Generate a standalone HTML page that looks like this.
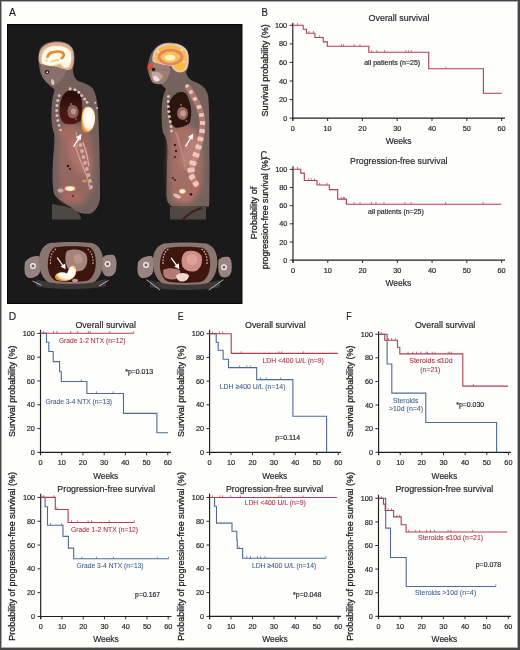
<!DOCTYPE html><html><head><meta charset="utf-8"><style>html,body{margin:0;padding:0;background:#fff;width:520px;height:650px;overflow:hidden;}svg{display:block;will-change:transform;}text{font-family:"Liberation Sans", sans-serif;}</style></head><body>
<svg width="520" height="650" viewBox="0 0 520 650">
<rect x="0" y="0" width="520" height="650" fill="#fefefd"/>
<defs>
<filter id="b05" x="-20%" y="-20%" width="140%" height="140%"><feGaussianBlur stdDeviation="0.5"/></filter>
<filter id="b1" x="-20%" y="-20%" width="140%" height="140%"><feGaussianBlur stdDeviation="0.5"/></filter>
<filter id="b2" x="-20%" y="-20%" width="140%" height="140%"><feGaussianBlur stdDeviation="1.5"/></filter>
<filter id="b3" x="-30%" y="-30%" width="160%" height="160%"><feGaussianBlur stdDeviation="2.5"/></filter>
<radialGradient id="brainL" cx="50%" cy="45%" r="60%">
<stop offset="0" stop-color="#fffbee"/><stop offset="0.75" stop-color="#fdf0d2"/><stop offset="1" stop-color="#f4c79a"/>
</radialGradient>
<radialGradient id="brainR" cx="48%" cy="52%" r="58%">
<stop offset="0" stop-color="#fff6d6"/><stop offset="0.18" stop-color="#fbe3a0"/><stop offset="0.38" stop-color="#e9903e"/><stop offset="0.55" stop-color="#db7436"/><stop offset="0.75" stop-color="#f4b44a"/><stop offset="0.92" stop-color="#f7d37a"/><stop offset="1" stop-color="#eec0a0"/>
</radialGradient>
<radialGradient id="lesion" cx="55%" cy="45%" r="55%">
<stop offset="0" stop-color="#ffffff"/><stop offset="0.7" stop-color="#fff6e6"/><stop offset="0.9" stop-color="#f8c26e"/><stop offset="1" stop-color="#e58a3a"/>
</radialGradient>
<radialGradient id="hot" cx="50%" cy="50%" r="50%">
<stop offset="0" stop-color="#ffffff"/><stop offset="0.6" stop-color="#fff2d8"/><stop offset="1" stop-color="#f29a48"/>
</radialGradient>
</defs>
<rect x="7.5" y="24.5" width="234.5" height="279" fill="#1a1a1a" stroke="#060606" stroke-width="1"/>

<!-- ================= LEFT SAGITTAL ================= -->
<g filter="url(#b1)">
<path d="M54 41.5 C62 40.5 70 43 73 49 C75 54 75 62 73 69 C73 74 74 78 78 81 C84 83 90 85 93 89 C96 94 97 100 98 110 C99 130 100 160 100 195 C100 203 97 210 91 213.5 C85 214.5 76 213 70 206.5 C64 203 57 199 54 194 C52 185 52.5 170 53 160 C54 148 55 138 54 133 C52 128 51 120 51.5 110 C52 100 53 94 55 90 C53 88 50 86 48 84 C44 80 40 75 39.5 68 C38 60 38 54 40 49 C43 44 48 42 54 41.5 Z" fill="#73615c"/>
<path d="M52 204 C60 205 67 207 72 208.5 C78 212 81 215 81 219.5 L52 219.5 Z" fill="#4e4644"/>
</g>
<g filter="url(#b3)">
<path d="M60 128 C68 125 82 127 90 132 C94 145 95 165 93 185 C91 195 86 202 80 205 C72 206 64 203 60 198 C58 185 57.5 150 60 128 Z" fill="#a06a62" opacity="0.75"/>
<ellipse cx="79" cy="156" rx="9" ry="22" fill="#b07268" transform="rotate(-22 79 156)"/>
<ellipse cx="70" cy="132" rx="12" ry="7" fill="#a46a60"/>
<ellipse cx="72" cy="198" rx="11" ry="6" fill="#a66a62"/>
<ellipse cx="88" cy="180" rx="4" ry="10" fill="#8a6a64"/>
<path d="M57 82 C62 80 70 82 73 86 C70 92 62 94 57 92 Z" fill="#7e5e58"/>
</g>
<g filter="url(#b1)">
<!-- lung -->
<linearGradient id="lungL" x1="0" y1="0" x2="0" y2="1"><stop offset="0" stop-color="#241010"/><stop offset="0.45" stop-color="#3a1210"/><stop offset="1" stop-color="#561a16"/></linearGradient>
<path d="M68 91 C74 89.5 79 91 81 96 C82.5 103 82.5 112 81.5 120 C78 124 72 125 66 124 C61 122 59.5 117 59.5 110 C59.5 104 61 98 64 94 C65 92.5 66.5 91.5 68 91 Z" fill="url(#lungL)"/>
<path d="M69 106 C72 104 76 105 77.5 108 C79.5 111 78.5 115 76.5 117 C74 119 70 118.5 68.5 116 C67 113 67 109 69 106 Z" fill="#8e625c"/>
<ellipse cx="73.5" cy="111.5" rx="2.6" ry="3" fill="#b8968e"/>
<circle cx="71" cy="104" r="1" fill="#9a6a64"/><circle cx="76" cy="119" r="1" fill="#8a5a54"/>
<!-- sternum -->
<g fill="#d8bcb4"><circle cx="59.1" cy="95.6" r="1.5"/><circle cx="57.8" cy="100.5" r="1.5"/><circle cx="57" cy="105.5" r="1.5"/><circle cx="56.7" cy="110.5" r="1.5"/><circle cx="57" cy="115.5" r="1.5"/><circle cx="57.8" cy="120.5" r="1.5"/><circle cx="59" cy="125.5" r="1.4"/><circle cx="60.5" cy="130" r="1.3"/></g>
<!-- spine -->
<g fill="#dcc0b8"><circle cx="70.2" cy="88.8" r="1.5"/><circle cx="75" cy="89.8" r="1.5"/><circle cx="78.8" cy="92.2" r="1.5"/><circle cx="81.7" cy="95.6" r="1.5"/><circle cx="84.6" cy="99" r="1.5"/><circle cx="87" cy="102.3" r="1.5"/><circle cx="95.2" cy="102.8" r="1"/><circle cx="97" cy="108" r="1"/></g>
<g fill="#d4aca4"><circle cx="79" cy="139" r="1.9"/><circle cx="80.5" cy="145" r="1.9"/><circle cx="82" cy="151" r="1.9"/><circle cx="83.5" cy="157" r="1.9"/><circle cx="85" cy="163" r="1.9"/><circle cx="86.8" cy="169" r="1.9"/><circle cx="88.5" cy="175" r="1.9"/><circle cx="90" cy="181" r="1.9"/><circle cx="91" cy="187" r="1.9"/></g>
<path d="M75 145 C78 155 81 163 84.5 170 C87 176 89 182 90 190" stroke="#c8a098" stroke-width="1.4" fill="none"/>
<path d="M83 142 C86 150 88 158 89 166" stroke="#d0aaa2" stroke-width="1.3" fill="none"/>
<path d="M76 132 C78 140 78 146 76 150" stroke="#c0948c" stroke-width="1.3" fill="none"/>
<!-- skull + brain -->
<path d="M38.8 60 C37.8 51 43 43.5 53 42.4 C63 41.2 71.5 44 73.2 51 C74.6 57 74.2 64 71.2 69.3 C67 70.8 62 70.3 58 68.8 C52 67.8 45 67.3 41.2 64.8 C39.8 63.3 39.1 62 38.8 60 Z" fill="#d8aca2"/>
<path d="M40.7 60 C40.3 52 45 46 53 45.2 C61 44.5 69 46 71.5 51.5 C73 56.5 72.5 63 69.5 67.8 C67 68.8 65.5 69 63.8 68.8 C62 67 60.5 65 59 64.4 C57.5 65.5 56.5 66 55 65.9 C53 66.5 51 67 49.3 66.8 C46 66 43 65 41.2 63.5 C40.8 62.5 40.6 61.3 40.7 60 Z" fill="#f6c070"/>
<path d="M41.7 59.8 C41.4 52.5 45.5 47 53 46.3 C61 45.6 68 47 70.5 52 C71.8 56.5 71.4 62.5 68.8 66.8 C67 67.6 65.6 67.8 64.2 67.6 C62.5 66 60.8 64 59 63.3 C57.3 64.5 56.3 65 55 64.9 C53 65.4 51 65.8 49.5 65.7 C46.5 65 43.8 64.2 42.2 62.8 C41.8 61.8 41.6 60.8 41.7 59.8 Z" fill="#fffaf0"/>
<path d="M47.4 56.8 C48.5 54 50 52.8 52.2 52.4 C55 51.6 57 51.4 59 51.5 C61.5 51.8 63.4 52.8 63.8 54.6 C63.8 56.3 62.8 57.6 61.6 58.2" stroke="#e68a2c" stroke-width="2.6" fill="none" stroke-linecap="round"/>
<path d="M51.5 61.6 C54 60.6 56.5 60.2 58.5 60" stroke="#f4c456" stroke-width="1.4" fill="none" stroke-linecap="round"/>
<circle cx="46.5" cy="60.5" r="1" fill="#f4c060"/>
<!-- face -->
<path d="M41 64 C48 66 58 67.5 66 69.5 C66 75 62 80 57 84 C53 86 49 84.5 46 81.5 C42.5 78 40.5 72 41 64 Z" fill="#8a706a"/>
<circle cx="47" cy="72" r="2.1" fill="#0e0e0e"/><circle cx="47.2" cy="72.2" r="1" fill="#e8e8e8"/>
<path d="M51.5 79 C54 79.5 55 83 53.5 85.5 C51.5 84.5 50.5 81.5 51.5 79 Z" fill="#dcc8c0"/>
<path d="M46 68 C50 66.5 56 67 60 69" stroke="#8a6a62" stroke-width="1.5" fill="none"/>
<!-- lesion -->
<path d="M85 107.5 C90 105 94.5 109 95 116 C95.5 123 94 129 88.5 132 C84 133.5 81 130 81.5 124 C81.5 118 81 111 85 107.5 Z" fill="url(#lesion)"/>
<!-- pelvis -->
<ellipse cx="60.5" cy="190.5" rx="3" ry="2" fill="#c8aca6"/>
<ellipse cx="84.5" cy="181" rx="2.4" ry="1.4" fill="#e28a58"/>
<circle cx="73" cy="196" r="0.9" fill="#5a1a14"/>
<circle cx="68" cy="166" r="1.2" fill="#2a1412"/><circle cx="70" cy="169" r="1" fill="#2a1412"/>
<path d="M64.5 188.5 C64.5 186.5 66 186 70 186 C74 186 75.5 186.5 75.5 188.5 C75.5 190.5 74 191.2 70 191.2 C66 191.2 64.5 190.5 64.5 188.5 Z" fill="url(#hot)"/>
</g>

<!-- ================= RIGHT SAGITTAL ================= -->
<g filter="url(#b1)">
<path d="M168 42.5 C178 42 186 46 188 53 C190 60 189 67 186 72 C187 77 190 80 195 82 C201 84 206 88 208 95 C209.5 105 209.5 130 209.5 160 C209.5 185 209.5 200 209 206.5 L172 206.5 C168 204 166.5 200 166.5 195 C166.5 180 167 165 167.5 150 C167.5 142 166 137 163 133 C161.5 125 161.5 112 162 104 C162.5 98 164 93 166 89 C164 87 162 85 160 83 C156 83 151 80 149 75 C147 70 147 65 149 60 C151 50 158 43 168 42.5 Z" fill="#75625d"/>
<path d="M170 207 L206 207 L206 219.5 L170 219.5 Z" fill="#4e4644"/>
<path d="M183 219.5 C188 214 194 210 202 208" stroke="#4a1e1a" stroke-width="2.2" fill="none"/>
</g>
<g filter="url(#b3)">
<radialGradient id="abdR" cx="50%" cy="22%" r="75%"><stop offset="0" stop-color="#b27468"/><stop offset="0.5" stop-color="#966a62"/><stop offset="1" stop-color="#78625c"/></radialGradient>
<path d="M170 126 C178 123 190 125 197 130 C203 145 205 165 204 185 C203 196 199 202 193 205 C184 206 175 205 170 201 C168 185 167 150 170 126 Z" fill="url(#abdR)"/>
<path d="M172 130 C180 127 192 129 198 134 C202 148 203 168 201 186 C199 196 194 202 188 204 C180 205 174 203 171 199 C169.5 185 169 150 172 130 Z" fill="#a87066" opacity="0.75"/>
<ellipse cx="184" cy="196" rx="10" ry="6" fill="#b07468"/>
<ellipse cx="190" cy="152" rx="7" ry="16" fill="#b88078" transform="rotate(20 190 152)"/>
</g>
<g filter="url(#b1)">
<path d="M177.7 92.5 C181 91.5 184 92 186 93.5 C189 99 191 105 191.2 111 C191.3 116 190.5 121 189.2 123.6 C185 126.5 180 128 175.7 127.8 C173 126 171.5 124 170.5 121.5 C169 116 167.8 111 167.9 107 C168.5 102 172 96 177.7 92.5 Z" fill="#2a1210"/>
<path d="M179 108 C182 106 186 107 187.5 110.5 C188.5 114 187.5 118 184.5 119.5 C181.5 120.5 178.5 119 177.5 116 C176.8 113 177 110 179 108 Z" fill="#9a6a62"/>
<ellipse cx="183" cy="113.5" rx="2.8" ry="3" fill="#c49a92"/>
<circle cx="181" cy="105" r="1" fill="#a06a64"/><circle cx="186.5" cy="121" r="1" fill="#96605a"/>
<g fill="#dcc0b8"><circle cx="168.4" cy="96.6" r="1.5"/><circle cx="168.2" cy="101.5" r="1.5"/><circle cx="168.4" cy="106.5" r="1.5"/><circle cx="168.8" cy="111.5" r="1.5"/><circle cx="169.4" cy="116.5" r="1.5"/><circle cx="170.2" cy="121.5" r="1.5"/><circle cx="171" cy="126.5" r="1.5"/><circle cx="171.5" cy="131" r="1.4"/></g>
<path d="M187 86 L191 92 L195 99 L199 107 L201.5 115 L202.5 123 L202 131 L200.5 139 L198.5 147 L196 155 L193 163 L191 170 L192 177 L196 184" stroke="#d88c7e" stroke-width="6" fill="none" stroke-linejoin="round" opacity="0.55"/>
<g fill="#ecc6be">
<rect x="185.2" y="84.4" width="3.6" height="3.2" rx="1.3" transform="rotate(-33.7 187 86)"/>
<rect x="189.0" y="90.3" width="4.0" height="3.4" rx="1.3" transform="rotate(-29.7 191 92)"/>
<rect x="192.8" y="97.2" width="4.3" height="3.5" rx="1.3" transform="rotate(-26.6 195 99)"/>
<rect x="196.7" y="105.2" width="4.7" height="3.7" rx="1.3" transform="rotate(-17.4 199 107)"/>
<rect x="199.0" y="113.1" width="5.0" height="3.8" rx="1.3" transform="rotate(-7.1 201.5 115)"/>
<rect x="199.8" y="121.0" width="5.3" height="4.0" rx="1.3" transform="rotate(3.6 202.5 123)"/>
<rect x="199.2" y="128.9" width="5.7" height="4.1" rx="1.3" transform="rotate(10.6 202 131)"/>
<rect x="197.5" y="136.9" width="6.0" height="4.2" rx="1.3" transform="rotate(14.0 200.5 139)"/>
<rect x="195.3" y="144.8" width="6.4" height="4.4" rx="1.3" transform="rotate(17.4 198.5 147)"/>
<rect x="192.6" y="152.7" width="6.8" height="4.5" rx="1.3" transform="rotate(20.6 196 155)"/>
<rect x="189.4" y="160.7" width="7.1" height="4.7" rx="1.3" transform="rotate(15.9 193 163)"/>
<rect x="187.3" y="167.6" width="7.4" height="4.8" rx="1.3" transform="rotate(-8.1 191 170)"/>
<rect x="189.0" y="174.5" width="6.0" height="5.0" rx="1.3" transform="rotate(-29.7 192 177)"/>
<rect x="193.0" y="181.4" width="6.0" height="5.2" rx="1.3" transform="rotate(-29.7 196 184)"/>
</g>
<path d="M176 132 C180 145 184 158 186 170" stroke="#c08a80" stroke-width="2" fill="none" opacity="0.8"/>
<circle cx="175" cy="145" r="1.2" fill="#3a1a16"/><circle cx="176" cy="151" r="1.2" fill="#3a1a16"/><circle cx="175" cy="157" r="1.1" fill="#3a1a16"/>
<!-- skull + brain -->
<path d="M152.5 61 C151.5 51 158 44 167 43.3 C177 42.6 185.5 45.5 187.8 52 C189.3 58 188.8 65 186.5 69.5 C184 72 181 72.8 178.7 72.3 C175 71.5 172.5 69 171.5 66 C166 65.5 160 64.5 155.6 63 C154 62.5 153 62 152.5 61 Z" fill="#eec4b6"/>
<path d="M154.5 60.3 C154 52 159.5 46 167.5 45.5 C176 45 183.5 47.5 185.8 53 C187 58 186.6 64 184.8 68 C182.8 70.3 180.6 71 178.7 70.6 C175.8 69.8 173.8 67.8 172.9 64.8 C167 64.3 161 63.5 156.5 62 C155.4 61.6 154.8 61 154.5 60.3 Z" fill="#f6bd44"/>
<ellipse cx="170.5" cy="57" rx="11.5" ry="6.8" fill="none" stroke="#e48466" stroke-width="2.8"/>
<ellipse cx="170" cy="57.6" rx="5.5" ry="3" fill="#fff3c4"/>
<ellipse cx="170" cy="57.6" rx="7.6" ry="4.4" fill="none" stroke="#f6c060" stroke-width="1.6"/>
<circle cx="158" cy="52" r="1.3" fill="#fde2a0"/><circle cx="182" cy="50" r="1.3" fill="#fde2a0"/><circle cx="184" cy="62" r="1.2" fill="#fde2a0"/>
<!-- face -->
<path d="M151 63 C156 63 164 64.5 170 67 C171 72 168 78 164 83 C160 85 155 84.5 152 82 C149.5 78 149 72 149.5 67 C150 65 150.5 63.5 151 63 Z" fill="#9c7e78"/>
<path d="M148 64.5 C150 63 153 64.5 153.5 67.5 C152 70 149 70 147.5 68.5 Z" fill="#e04a30"/>
<circle cx="153.5" cy="69.5" r="1.8" fill="#1a0c0a"/>
<path d="M152 72 C156 71 161 72.5 163 76 C161 80.5 158 82.5 155 82 C152.5 80.5 151.5 76 152 72 Z" fill="#c7a49a"/>
<path d="M153.5 76 C156.5 75.5 159.5 77.5 159.5 80.5 C157 82 154.5 81.5 153.5 79 Z" fill="#efe2da"/>
<path d="M158 70 C162 69 166 70 170 72" stroke="#9a766e" stroke-width="1.4" fill="none"/>
<!-- pelvis -->
<ellipse cx="177" cy="196" rx="4" ry="1.8" fill="#d8c0b8" transform="rotate(25 177 196)"/>
<path d="M179 190 C180 188.5 183 188.5 185.5 189.5 C186.5 191.5 185.5 193.5 182.5 194 C180 194 178.5 192.5 179 190 Z" fill="url(#hot)"/>
<circle cx="191" cy="194.3" r="1.4" fill="#4a1410"/>
<path d="M195 192 C197 189 199 186 200 183" stroke="#d06048" stroke-width="1.6" fill="none"/>
<circle cx="173" cy="178" r="1" fill="#3a1a16"/><circle cx="175" cy="180" r="1" fill="#3a1a16"/>
</g>

<!-- sagittal arrows -->
<g stroke="#ffffff" stroke-width="1.3" fill="none" stroke-linecap="round">
<path d="M73.8 146.2 L79.3 137.6"/>
<path d="M185.8 146.2 L191.2 137.2"/>
</g>
<g fill="#ffffff">
<path d="M81.5 134 L75.9 137.2 L80.6 140.1 Z"/>
<path d="M193.3 133.6 L187.8 136.9 L192.5 139.8 Z"/>
</g>

<!-- ================= AXIAL LEFT ================= -->
<g filter="url(#b1)">
<path d="M36 279 C50 284 90 284 106 279 L106 286 C92 290 50 290 36 286 Z" fill="#3e3837"/>
<path d="M25 262 C28 257.5 34 255.5 38.5 256 C41 258 41 266 40 272 C38.5 276 34 278 29.5 278 C26 277.5 24.5 274 24.5 270 C24.5 267 24.6 264.5 25 262 Z" fill="#968282"/>
<circle cx="33" cy="266" r="2.3" fill="none" stroke="#f0f0f0" stroke-width="1.3"/><circle cx="33" cy="266" r="1.1" fill="#6e6262"/>
<path d="M102 258 C104 255 109 254 113.5 255 C116.5 257 116.8 263 116.3 268 C115.8 273 113 276.5 108.5 276.5 C104.5 276.5 102.3 273 101.9 268.5 C101.7 265 101.7 261 102 258 Z" fill="#968282"/>
<circle cx="107.5" cy="264" r="2.3" fill="none" stroke="#f0f0f0" stroke-width="1.3"/><circle cx="107.5" cy="264" r="1.1" fill="#6e6262"/>
<path d="M50 243 C60 241.5 82 241.5 92 243 C99 245 103 252 103 261 C103 270 100 278 94 282 C85 284.5 57 284.5 48 282 C42 278 39 270 39 261 C39 252 43 245 50 243 Z" fill="#887470"/>
<path d="M54.5 247.3 C63 245.8 81 245.8 89.5 247.3 C94.5 250 96 257 95.8 264 C95.5 271 93 278 87.5 280.8 C79 282.3 63 282.3 55.5 280.8 C50 278 47.6 271 47.8 264 C48 257 50 250 54.5 247.3 Z" fill="#3b1411"/>
<path d="M67 251 C72 248.5 82 249 86 254 C88.5 259 87.5 266 83 270 C78 272.5 71 271.5 67.5 268 C65 263 64.5 255 67 251 Z" fill="#a6847e"/>
<ellipse cx="78" cy="259" rx="4.5" ry="5" fill="#b89690"/>
<path d="M50.5 264 C50 256 52.5 250.5 57 248.5" stroke="#c8a49c" stroke-width="1.2" stroke-dasharray="1.6 1.4" fill="none"/>
<path d="M93 264 C93.5 256 91 250.5 86.5 248.5" stroke="#c8a49c" stroke-width="1.2" stroke-dasharray="1.6 1.4" fill="none"/>
<path d="M55 276 C57 272 63 271.5 67 273.5 C68.5 270 69.5 266.5 72.5 265.5 C76 265 77 270 75.5 274.5 C73.5 280 67 281.5 61.5 281 C57 280.5 54.5 279 55 276 Z" fill="url(#lesion)"/>
<ellipse cx="75" cy="280.5" rx="3" ry="1.8" fill="#c09690"/>
</g>
<g filter="url(#b05)">
<path d="M32.5 281 L41.5 285.3" stroke="#c4c4c4" stroke-width="0.9" fill="none"/>
<path d="M99 286 L108.5 280.3" stroke="#c4c4c4" stroke-width="0.9" fill="none"/>
</g>

<!-- ================= AXIAL RIGHT ================= -->
<g filter="url(#b1)">
<path d="M150 280 C165 285 205 285 220 280 L220 287 C205 291 165 291 150 287 Z" fill="#3e3837"/>
<path d="M138 262 C141 257.5 147 255.5 151.5 256 C154 258 154 266 153 272 C151.5 276 147 278 142.5 278 C139 277.5 137.5 274 137.5 270 C137.5 267 137.6 264.5 138 262 Z" fill="#9a8482"/>
<circle cx="146" cy="265" r="2.3" fill="none" stroke="#f0f0f0" stroke-width="1.3"/><circle cx="146" cy="265" r="1.1" fill="#6e6262"/>
<path d="M218.5 260 C220.5 257 225 256 229 257 C231.8 259 232 265 231.6 270 C231.2 274.5 228.5 277.5 224.5 277.5 C220.8 277.5 218.8 274.5 218.4 270 C218.2 266.5 218.2 263 218.5 260 Z" fill="#9a8482"/>
<circle cx="224" cy="267.2" r="2.3" fill="none" stroke="#f0f0f0" stroke-width="1.3"/><circle cx="224" cy="267.2" r="1.1" fill="#6e6262"/>
<path d="M164 243.5 C174 242 196 242 206 243.5 C213 245.5 217.3 252 217.3 261.5 C217.3 270.5 214 279 208 283 C199 285.5 171 285.5 162 283 C156 279 152.8 270.5 152.8 261.5 C152.8 252 157 245.5 164 243.5 Z" fill="#8c746e"/>
<path d="M167.5 247.8 C176 246.3 194 246.3 202.5 247.8 C208.5 250.5 210.3 258 210.1 265 C209.9 272 207.3 279 201.5 281.8 C193 283.3 177 283.3 168.5 281.8 C162.7 279 159.7 272 159.9 265 C160.1 258 162 250.5 167.5 247.8 Z" fill="#3c1411"/>
<path d="M186 251.5 C191 249.5 199 251 201.5 256 C203 262 201 268 196 271 C191 272.5 185 271 182.5 266.5 C180.5 261 181.5 254.5 186 251.5 Z" fill="#cf8f88"/>
<ellipse cx="192" cy="259.5" rx="5.5" ry="5.5" fill="#dea29a"/>
<path d="M163 270 C168 267.5 176 268 180 270.5 C181 274 179 278.5 174 279.5 C169 280 165 278.5 163.5 275.5 Z" fill="#b27a72"/>
<path d="M176 276 C178 272.5 186 272 189 275.5 C188.5 279.5 185 281.5 182 281.5 C179 281.5 176.5 279.5 176 276 Z" fill="#f2d6cc"/>
<path d="M163 264 C162.5 256 165 250.5 169.5 248.5" stroke="#dcb4ac" stroke-width="1.3" stroke-dasharray="1.6 1.4" fill="none"/>
<path d="M207 264 C207.5 256 205 250.5 200.5 248.5" stroke="#dcb4ac" stroke-width="1.3" stroke-dasharray="1.6 1.4" fill="none"/>
</g>
<g filter="url(#b05)">
<path d="M146.5 279.7 L160 290" stroke="#c4c4c4" stroke-width="0.9" fill="none"/>
<path d="M208.8 290 L223.4 279.7" stroke="#c4c4c4" stroke-width="0.9" fill="none"/>
</g>

<!-- axial arrows -->
<g stroke="#ffffff" stroke-width="1.3" fill="none" stroke-linecap="round">
<path d="M57.5 258 L63.5 266.5"/>
<path d="M171.5 258.3 L177.2 266.2"/>
</g>
<g fill="#ffffff">
<path d="M65.6 269.3 L60.6 266.6 L65.1 263.4 Z"/>
<path d="M179.3 269.2 L174.3 266.5 L178.8 263.3 Z"/>
</g>

<path d="M292.8 22.7V120.7M292.2 118.1H505" stroke="#1e1e1e" stroke-width="1.15" fill="none"/>
<path d="M289.6 118.1H292.8M289.6 99.54H292.8M289.6 80.98H292.8M289.6 62.42H292.8M289.6 43.86H292.8M289.6 25.3H292.8M292.8 118.1V121M327.6 118.1V121M362.4 118.1V121M397.2 118.1V121M432 118.1V121M466.8 118.1V121M501.6 118.1V121" stroke="#222" stroke-width="0.95" fill="none"/>
<text x="287.2" y="120.7" font-size="7.3" fill="#231f20" stroke="#231f20" stroke-width="0.18" text-anchor="end">0</text>
<text x="287.2" y="102.14" font-size="7.3" fill="#231f20" stroke="#231f20" stroke-width="0.18" text-anchor="end">20</text>
<text x="287.2" y="83.58" font-size="7.3" fill="#231f20" stroke="#231f20" stroke-width="0.18" text-anchor="end">40</text>
<text x="287.2" y="65.02" font-size="7.3" fill="#231f20" stroke="#231f20" stroke-width="0.18" text-anchor="end">60</text>
<text x="287.2" y="46.46" font-size="7.3" fill="#231f20" stroke="#231f20" stroke-width="0.18" text-anchor="end">80</text>
<text x="287.2" y="27.9" font-size="7.3" fill="#231f20" stroke="#231f20" stroke-width="0.18" text-anchor="end">100</text>
<text x="292.8" y="131" font-size="7.3" fill="#231f20" stroke="#231f20" stroke-width="0.18" text-anchor="middle">0</text>
<text x="327.6" y="131" font-size="7.3" fill="#231f20" stroke="#231f20" stroke-width="0.18" text-anchor="middle">10</text>
<text x="362.4" y="131" font-size="7.3" fill="#231f20" stroke="#231f20" stroke-width="0.18" text-anchor="middle">20</text>
<text x="397.2" y="131" font-size="7.3" fill="#231f20" stroke="#231f20" stroke-width="0.18" text-anchor="middle">30</text>
<text x="432" y="131" font-size="7.3" fill="#231f20" stroke="#231f20" stroke-width="0.18" text-anchor="middle">40</text>
<text x="466.8" y="131" font-size="7.3" fill="#231f20" stroke="#231f20" stroke-width="0.18" text-anchor="middle">50</text>
<text x="501.6" y="131" font-size="7.3" fill="#231f20" stroke="#231f20" stroke-width="0.18" text-anchor="middle">60</text>
<path d="M292.8 25.3H303.2V29.2H306.4V33.2H314.9V37.5H323.3V41.9H327.3V46.3H368.8V52.3H428.7V68.8H483.4V93.3H501.9" stroke="#b23d50" stroke-width="1.1" fill="none" stroke-linejoin="miter"/>
<path d="M297.5 25.3V23.1M309 33.2V31M313.5 33.2V31M319.7 37.5V35.3M341.5 46.3V44.1M343.6 46.3V44.1M354 46.3V44.1M360 46.3V44.1M371.6 52.3V50.1M376.8 52.3V50.1M384.5 52.3V50.1M405.8 52.3V50.1M408.5 52.3V50.1M411.2 52.3V50.1M445.9 68.8V66.6" stroke="#b23d50" stroke-width="0.7" fill="none"/>
<path d="M293 166.2V262.7M292.4 260.1H505" stroke="#1e1e1e" stroke-width="1.15" fill="none"/>
<path d="M289.8 260.1H293M289.8 241.96H293M289.8 223.82H293M289.8 205.68H293M289.8 187.54H293M289.8 169.4H293M293 260.1V263M327.77 260.1V263M362.53 260.1V263M397.3 260.1V263M432.07 260.1V263M466.83 260.1V263M501.6 260.1V263" stroke="#222" stroke-width="0.95" fill="none"/>
<text x="287.4" y="262.7" font-size="7.3" fill="#231f20" stroke="#231f20" stroke-width="0.18" text-anchor="end">0</text>
<text x="287.4" y="244.56" font-size="7.3" fill="#231f20" stroke="#231f20" stroke-width="0.18" text-anchor="end">20</text>
<text x="287.4" y="226.42" font-size="7.3" fill="#231f20" stroke="#231f20" stroke-width="0.18" text-anchor="end">40</text>
<text x="287.4" y="208.28" font-size="7.3" fill="#231f20" stroke="#231f20" stroke-width="0.18" text-anchor="end">60</text>
<text x="287.4" y="190.14" font-size="7.3" fill="#231f20" stroke="#231f20" stroke-width="0.18" text-anchor="end">80</text>
<text x="287.4" y="172" font-size="7.3" fill="#231f20" stroke="#231f20" stroke-width="0.18" text-anchor="end">100</text>
<text x="293" y="273" font-size="7.3" fill="#231f20" stroke="#231f20" stroke-width="0.18" text-anchor="middle">0</text>
<text x="327.77" y="273" font-size="7.3" fill="#231f20" stroke="#231f20" stroke-width="0.18" text-anchor="middle">10</text>
<text x="362.53" y="273" font-size="7.3" fill="#231f20" stroke="#231f20" stroke-width="0.18" text-anchor="middle">20</text>
<text x="397.3" y="273" font-size="7.3" fill="#231f20" stroke="#231f20" stroke-width="0.18" text-anchor="middle">30</text>
<text x="432.07" y="273" font-size="7.3" fill="#231f20" stroke="#231f20" stroke-width="0.18" text-anchor="middle">40</text>
<text x="466.83" y="273" font-size="7.3" fill="#231f20" stroke="#231f20" stroke-width="0.18" text-anchor="middle">50</text>
<text x="501.6" y="273" font-size="7.3" fill="#231f20" stroke="#231f20" stroke-width="0.18" text-anchor="middle">60</text>
<path d="M293 169.2H300.7V173.1H304.3V180.5H317V185H329.3V189.6H337.7V199.1H346.4V204.2H501.4" stroke="#b23d50" stroke-width="1.1" fill="none" stroke-linejoin="miter"/>
<path d="M297.5 169.2V167M308.7 180.5V178.3M311.3 180.5V178.3M314.4 180.5V178.3M319.7 185V182.8M327.1 185V182.8M341.3 199.1V196.9M343.4 199.1V196.9M344.7 199.1V196.9M354 204.2V202M360 204.2V202M371.3 204.2V202M376 204.2V202M384 204.2V202M405 204.2V202M411 204.2V202M445.4 204.2V202M483 204.2V202" stroke="#b23d50" stroke-width="0.7" fill="none"/>
<path d="M40.5 329.8V455M39.9 452.4H171" stroke="#1e1e1e" stroke-width="1.15" fill="none"/>
<path d="M37.3 452.4H40.5M37.3 428.6H40.5M37.3 404.8H40.5M37.3 381H40.5M37.3 357.2H40.5M37.3 333.4H40.5M40.5 452.4V455.3M61.72 452.4V455.3M82.93 452.4V455.3M104.15 452.4V455.3M125.37 452.4V455.3M146.58 452.4V455.3M167.8 452.4V455.3" stroke="#222" stroke-width="0.95" fill="none"/>
<text x="34.9" y="455" font-size="7.3" fill="#231f20" stroke="#231f20" stroke-width="0.18" text-anchor="end">0</text>
<text x="34.9" y="431.2" font-size="7.3" fill="#231f20" stroke="#231f20" stroke-width="0.18" text-anchor="end">20</text>
<text x="34.9" y="407.4" font-size="7.3" fill="#231f20" stroke="#231f20" stroke-width="0.18" text-anchor="end">40</text>
<text x="34.9" y="383.6" font-size="7.3" fill="#231f20" stroke="#231f20" stroke-width="0.18" text-anchor="end">60</text>
<text x="34.9" y="359.8" font-size="7.3" fill="#231f20" stroke="#231f20" stroke-width="0.18" text-anchor="end">80</text>
<text x="34.9" y="336" font-size="7.3" fill="#231f20" stroke="#231f20" stroke-width="0.18" text-anchor="end">100</text>
<text x="40.5" y="465.3" font-size="7.3" fill="#231f20" stroke="#231f20" stroke-width="0.18" text-anchor="middle">0</text>
<text x="61.72" y="465.3" font-size="7.3" fill="#231f20" stroke="#231f20" stroke-width="0.18" text-anchor="middle">10</text>
<text x="82.93" y="465.3" font-size="7.3" fill="#231f20" stroke="#231f20" stroke-width="0.18" text-anchor="middle">20</text>
<text x="104.15" y="465.3" font-size="7.3" fill="#231f20" stroke="#231f20" stroke-width="0.18" text-anchor="middle">30</text>
<text x="125.37" y="465.3" font-size="7.3" fill="#231f20" stroke="#231f20" stroke-width="0.18" text-anchor="middle">40</text>
<text x="146.58" y="465.3" font-size="7.3" fill="#231f20" stroke="#231f20" stroke-width="0.18" text-anchor="middle">50</text>
<text x="167.8" y="465.3" font-size="7.3" fill="#231f20" stroke="#231f20" stroke-width="0.18" text-anchor="middle">60</text>
<path d="M40.5 333.3H46.5V342.2H48.8V351.5H53.2V361.6H59.6V371.7H61.3V381.5H86.9V393.5H123.5V413.4H156.9V432.8H168" stroke="#4d6b95" stroke-width="1.1" fill="none" stroke-linejoin="miter"/>
<path d="M81.3 381.5V379.3M96.5 393.5V391.3M113.1 393.5V391.3" stroke="#4d6b95" stroke-width="0.7" fill="none"/>
<path d="M40.5 333.3H133.8" stroke="#b23d50" stroke-width="1.1" fill="none" stroke-linejoin="miter"/>
<path d="M43.4 333.3V331.1M53.5 333.3V331.1M56.9 333.3V331.1M70.7 333.3V331.1M77.7 333.3V331.1M88.3 333.3V331.1M90.2 333.3V331.1M109.8 333.3V331.1M133.8 333.3V331.1" stroke="#b23d50" stroke-width="0.7" fill="none"/>
<path d="M40.7 493.8V619.1M40.1 616.5H171.5" stroke="#1e1e1e" stroke-width="1.15" fill="none"/>
<path d="M37.5 616.5H40.7M37.5 592.68H40.7M37.5 568.86H40.7M37.5 545.04H40.7M37.5 521.22H40.7M37.5 497.4H40.7M40.7 616.5V619.4M61.95 616.5V619.4M83.2 616.5V619.4M104.45 616.5V619.4M125.7 616.5V619.4M146.95 616.5V619.4M168.2 616.5V619.4" stroke="#222" stroke-width="0.95" fill="none"/>
<text x="35.1" y="619.1" font-size="7.3" fill="#231f20" stroke="#231f20" stroke-width="0.18" text-anchor="end">0</text>
<text x="35.1" y="595.28" font-size="7.3" fill="#231f20" stroke="#231f20" stroke-width="0.18" text-anchor="end">20</text>
<text x="35.1" y="571.46" font-size="7.3" fill="#231f20" stroke="#231f20" stroke-width="0.18" text-anchor="end">40</text>
<text x="35.1" y="547.64" font-size="7.3" fill="#231f20" stroke="#231f20" stroke-width="0.18" text-anchor="end">60</text>
<text x="35.1" y="523.82" font-size="7.3" fill="#231f20" stroke="#231f20" stroke-width="0.18" text-anchor="end">80</text>
<text x="35.1" y="500" font-size="7.3" fill="#231f20" stroke="#231f20" stroke-width="0.18" text-anchor="end">100</text>
<text x="40.7" y="629.4" font-size="7.3" fill="#231f20" stroke="#231f20" stroke-width="0.18" text-anchor="middle">0</text>
<text x="61.95" y="629.4" font-size="7.3" fill="#231f20" stroke="#231f20" stroke-width="0.18" text-anchor="middle">10</text>
<text x="83.2" y="629.4" font-size="7.3" fill="#231f20" stroke="#231f20" stroke-width="0.18" text-anchor="middle">20</text>
<text x="104.45" y="629.4" font-size="7.3" fill="#231f20" stroke="#231f20" stroke-width="0.18" text-anchor="middle">30</text>
<text x="125.7" y="629.4" font-size="7.3" fill="#231f20" stroke="#231f20" stroke-width="0.18" text-anchor="middle">40</text>
<text x="146.95" y="629.4" font-size="7.3" fill="#231f20" stroke="#231f20" stroke-width="0.18" text-anchor="middle">50</text>
<text x="168.2" y="629.4" font-size="7.3" fill="#231f20" stroke="#231f20" stroke-width="0.18" text-anchor="middle">60</text>
<path d="M40.7 497.4H45.1V506.8H47.5V525.3H63V536.4H68.4V548.1H73.7V558.8H168.5" stroke="#4d6b95" stroke-width="1.1" fill="none" stroke-linejoin="miter"/>
<path d="M50.5 525.3V523.1M61.6 525.3V523.1M81.9 558.8V556.6M96.5 558.8V556.6M113.5 558.8V556.6M157.4 558.8V556.6M168.5 558.8V556.6" stroke="#4d6b95" stroke-width="0.7" fill="none"/>
<path d="M40.7 497.4H55.3V509.5H68.1V522.5H134.3" stroke="#b23d50" stroke-width="1.1" fill="none" stroke-linejoin="miter"/>
<path d="M43.5 497.4V495.2M54 497.4V495.2M56.9 509.5V507.3M71.5 522.5V520.3M77.3 522.5V520.3M88.2 522.5V520.3M91.6 522.5V520.3M109.2 522.5V520.3M134.3 522.5V520.3" stroke="#b23d50" stroke-width="0.7" fill="none"/>
<path d="M209.6 329.8V454.9M209 452.3H341" stroke="#1e1e1e" stroke-width="1.15" fill="none"/>
<path d="M206.4 452.3H209.6M206.4 428.58H209.6M206.4 404.86H209.6M206.4 381.14H209.6M206.4 357.42H209.6M206.4 333.7H209.6M209.6 452.3V455.2M231.03 452.3V455.2M252.47 452.3V455.2M273.9 452.3V455.2M295.33 452.3V455.2M316.77 452.3V455.2M338.2 452.3V455.2" stroke="#222" stroke-width="0.95" fill="none"/>
<text x="204" y="454.9" font-size="7.3" fill="#231f20" stroke="#231f20" stroke-width="0.18" text-anchor="end">0</text>
<text x="204" y="431.18" font-size="7.3" fill="#231f20" stroke="#231f20" stroke-width="0.18" text-anchor="end">20</text>
<text x="204" y="407.46" font-size="7.3" fill="#231f20" stroke="#231f20" stroke-width="0.18" text-anchor="end">40</text>
<text x="204" y="383.74" font-size="7.3" fill="#231f20" stroke="#231f20" stroke-width="0.18" text-anchor="end">60</text>
<text x="204" y="360.02" font-size="7.3" fill="#231f20" stroke="#231f20" stroke-width="0.18" text-anchor="end">80</text>
<text x="204" y="336.3" font-size="7.3" fill="#231f20" stroke="#231f20" stroke-width="0.18" text-anchor="end">100</text>
<text x="209.6" y="465.2" font-size="7.3" fill="#231f20" stroke="#231f20" stroke-width="0.18" text-anchor="middle">0</text>
<text x="231.03" y="465.2" font-size="7.3" fill="#231f20" stroke="#231f20" stroke-width="0.18" text-anchor="middle">10</text>
<text x="252.47" y="465.2" font-size="7.3" fill="#231f20" stroke="#231f20" stroke-width="0.18" text-anchor="middle">20</text>
<text x="273.9" y="465.2" font-size="7.3" fill="#231f20" stroke="#231f20" stroke-width="0.18" text-anchor="middle">30</text>
<text x="295.33" y="465.2" font-size="7.3" fill="#231f20" stroke="#231f20" stroke-width="0.18" text-anchor="middle">40</text>
<text x="316.77" y="465.2" font-size="7.3" fill="#231f20" stroke="#231f20" stroke-width="0.18" text-anchor="middle">50</text>
<text x="338.2" y="465.2" font-size="7.3" fill="#231f20" stroke="#231f20" stroke-width="0.18" text-anchor="middle">60</text>
<path d="M209.6 333.7H216.2V342.2H218.2V350.2H223.1V359.3H228.5V367.6H256.7V379.6H292.9V416.2H326.6V452.3" stroke="#4d6b95" stroke-width="1.1" fill="none" stroke-linejoin="miter"/>
<path d="M239.5 367.6V365.4M246.8 367.6V365.4M250.3 367.6V365.4M260.6 379.6V377.4M266.2 379.6V377.4M280.6 379.6V377.4" stroke="#4d6b95" stroke-width="0.7" fill="none"/>
<path d="M209.6 333.7H231.2V353.4H337.9" stroke="#b23d50" stroke-width="1.1" fill="none" stroke-linejoin="miter"/>
<path d="M212.5 333.7V331.5M219.5 333.7V331.5M222.6 333.7V331.5M241.3 353.4V351.2M278.8 353.4V351.2M281.8 353.4V351.2M303.3 353.4V351.2" stroke="#b23d50" stroke-width="0.7" fill="none"/>
<path d="M209.6 493.8V619M209 616.4H341" stroke="#1e1e1e" stroke-width="1.15" fill="none"/>
<path d="M206.4 616.4H209.6M206.4 592.62H209.6M206.4 568.84H209.6M206.4 545.06H209.6M206.4 521.28H209.6M206.4 497.5H209.6M209.6 616.4V619.3M231.03 616.4V619.3M252.47 616.4V619.3M273.9 616.4V619.3M295.33 616.4V619.3M316.77 616.4V619.3M338.2 616.4V619.3" stroke="#222" stroke-width="0.95" fill="none"/>
<text x="204" y="619" font-size="7.3" fill="#231f20" stroke="#231f20" stroke-width="0.18" text-anchor="end">0</text>
<text x="204" y="595.22" font-size="7.3" fill="#231f20" stroke="#231f20" stroke-width="0.18" text-anchor="end">20</text>
<text x="204" y="571.44" font-size="7.3" fill="#231f20" stroke="#231f20" stroke-width="0.18" text-anchor="end">40</text>
<text x="204" y="547.66" font-size="7.3" fill="#231f20" stroke="#231f20" stroke-width="0.18" text-anchor="end">60</text>
<text x="204" y="523.88" font-size="7.3" fill="#231f20" stroke="#231f20" stroke-width="0.18" text-anchor="end">80</text>
<text x="204" y="500.1" font-size="7.3" fill="#231f20" stroke="#231f20" stroke-width="0.18" text-anchor="end">100</text>
<text x="209.6" y="629.3" font-size="7.3" fill="#231f20" stroke="#231f20" stroke-width="0.18" text-anchor="middle">0</text>
<text x="231.03" y="629.3" font-size="7.3" fill="#231f20" stroke="#231f20" stroke-width="0.18" text-anchor="middle">10</text>
<text x="252.47" y="629.3" font-size="7.3" fill="#231f20" stroke="#231f20" stroke-width="0.18" text-anchor="middle">20</text>
<text x="273.9" y="629.3" font-size="7.3" fill="#231f20" stroke="#231f20" stroke-width="0.18" text-anchor="middle">30</text>
<text x="295.33" y="629.3" font-size="7.3" fill="#231f20" stroke="#231f20" stroke-width="0.18" text-anchor="middle">40</text>
<text x="316.77" y="629.3" font-size="7.3" fill="#231f20" stroke="#231f20" stroke-width="0.18" text-anchor="middle">50</text>
<text x="338.2" y="629.3" font-size="7.3" fill="#231f20" stroke="#231f20" stroke-width="0.18" text-anchor="middle">60</text>
<path d="M209.6 497.5H214.6V506.2H216.5V523.1H232V531.3H236.8V540H237.3V548.5H242.6V558.3H326" stroke="#4d6b95" stroke-width="1.1" fill="none" stroke-linejoin="miter"/>
<path d="M239.3 548.5V546.3M246.8 558.3V556.1M250.5 558.3V556.1M257.5 558.3V556.1M260.6 558.3V556.1M265 558.3V556.1M326 558.3V556.1" stroke="#4d6b95" stroke-width="0.7" fill="none"/>
<path d="M209.6 497.5H336.9" stroke="#b23d50" stroke-width="1.1" fill="none" stroke-linejoin="miter"/>
<path d="M212.3 497.5V495.3M220 497.5V495.3M222.6 497.5V495.3M230.8 497.5V495.3M240.3 497.5V495.3M278.8 497.5V495.3M281.2 497.5V495.3M302.9 497.5V495.3" stroke="#b23d50" stroke-width="0.7" fill="none"/>
<path d="M378.6 331.2V454.9M378 452.3H511" stroke="#1e1e1e" stroke-width="1.15" fill="none"/>
<path d="M375.4 452.3H378.6M375.4 428.68H378.6M375.4 405.06H378.6M375.4 381.44H378.6M375.4 357.82H378.6M375.4 334.2H378.6M378.6 452.3V455.2M400.23 452.3V455.2M421.87 452.3V455.2M443.5 452.3V455.2M465.13 452.3V455.2M486.77 452.3V455.2M508.4 452.3V455.2" stroke="#222" stroke-width="0.95" fill="none"/>
<text x="373" y="454.9" font-size="7.3" fill="#231f20" stroke="#231f20" stroke-width="0.18" text-anchor="end">0</text>
<text x="373" y="431.28" font-size="7.3" fill="#231f20" stroke="#231f20" stroke-width="0.18" text-anchor="end">20</text>
<text x="373" y="407.66" font-size="7.3" fill="#231f20" stroke="#231f20" stroke-width="0.18" text-anchor="end">40</text>
<text x="373" y="384.04" font-size="7.3" fill="#231f20" stroke="#231f20" stroke-width="0.18" text-anchor="end">60</text>
<text x="373" y="360.42" font-size="7.3" fill="#231f20" stroke="#231f20" stroke-width="0.18" text-anchor="end">80</text>
<text x="373" y="336.8" font-size="7.3" fill="#231f20" stroke="#231f20" stroke-width="0.18" text-anchor="end">100</text>
<text x="378.6" y="465.2" font-size="7.3" fill="#231f20" stroke="#231f20" stroke-width="0.18" text-anchor="middle">0</text>
<text x="400.23" y="465.2" font-size="7.3" fill="#231f20" stroke="#231f20" stroke-width="0.18" text-anchor="middle">10</text>
<text x="421.87" y="465.2" font-size="7.3" fill="#231f20" stroke="#231f20" stroke-width="0.18" text-anchor="middle">20</text>
<text x="443.5" y="465.2" font-size="7.3" fill="#231f20" stroke="#231f20" stroke-width="0.18" text-anchor="middle">30</text>
<text x="465.13" y="465.2" font-size="7.3" fill="#231f20" stroke="#231f20" stroke-width="0.18" text-anchor="middle">40</text>
<text x="486.77" y="465.2" font-size="7.3" fill="#231f20" stroke="#231f20" stroke-width="0.18" text-anchor="middle">50</text>
<text x="508.4" y="465.2" font-size="7.3" fill="#231f20" stroke="#231f20" stroke-width="0.18" text-anchor="middle">60</text>
<path d="M378.6 334.2H387.1V364H391.8V393.1H425.8V422.5H496.6V452.3" stroke="#4d6b95" stroke-width="1.1" fill="none" stroke-linejoin="miter"/>
<path d="M378.6 334.2H384.7V340.2H397.5V347.3H399.8V353.9H462.8V386.1H508" stroke="#b23d50" stroke-width="1.1" fill="none" stroke-linejoin="miter"/>
<path d="M381.3 334.2V332M388.6 340.2V338M391.7 340.2V338M395.5 340.2V338M408.1 353.9V351.7M412.7 353.9V351.7M416.5 353.9V351.7M420.8 353.9V351.7M426 353.9V351.7M427.5 353.9V351.7M432.3 353.9V351.7M435 353.9V351.7M448.2 353.9V351.7M449.8 353.9V351.7M451.7 353.9V351.7M473.4 386.1V383.9" stroke="#b23d50" stroke-width="0.7" fill="none"/>
<path d="M378.5 494.8V618.9M377.9 616.3H511" stroke="#1e1e1e" stroke-width="1.15" fill="none"/>
<path d="M375.3 616.3H378.5M375.3 592.7H378.5M375.3 569.1H378.5M375.3 545.5H378.5M375.3 521.9H378.5M375.3 498.3H378.5M378.5 616.3V619.2M400.13 616.3V619.2M421.77 616.3V619.2M443.4 616.3V619.2M465.03 616.3V619.2M486.67 616.3V619.2M508.3 616.3V619.2" stroke="#222" stroke-width="0.95" fill="none"/>
<text x="372.9" y="618.9" font-size="7.3" fill="#231f20" stroke="#231f20" stroke-width="0.18" text-anchor="end">0</text>
<text x="372.9" y="595.3" font-size="7.3" fill="#231f20" stroke="#231f20" stroke-width="0.18" text-anchor="end">20</text>
<text x="372.9" y="571.7" font-size="7.3" fill="#231f20" stroke="#231f20" stroke-width="0.18" text-anchor="end">40</text>
<text x="372.9" y="548.1" font-size="7.3" fill="#231f20" stroke="#231f20" stroke-width="0.18" text-anchor="end">60</text>
<text x="372.9" y="524.5" font-size="7.3" fill="#231f20" stroke="#231f20" stroke-width="0.18" text-anchor="end">80</text>
<text x="372.9" y="500.9" font-size="7.3" fill="#231f20" stroke="#231f20" stroke-width="0.18" text-anchor="end">100</text>
<text x="378.5" y="629.2" font-size="7.3" fill="#231f20" stroke="#231f20" stroke-width="0.18" text-anchor="middle">0</text>
<text x="400.13" y="629.2" font-size="7.3" fill="#231f20" stroke="#231f20" stroke-width="0.18" text-anchor="middle">10</text>
<text x="421.77" y="629.2" font-size="7.3" fill="#231f20" stroke="#231f20" stroke-width="0.18" text-anchor="middle">20</text>
<text x="443.4" y="629.2" font-size="7.3" fill="#231f20" stroke="#231f20" stroke-width="0.18" text-anchor="middle">30</text>
<text x="465.03" y="629.2" font-size="7.3" fill="#231f20" stroke="#231f20" stroke-width="0.18" text-anchor="middle">40</text>
<text x="486.67" y="629.2" font-size="7.3" fill="#231f20" stroke="#231f20" stroke-width="0.18" text-anchor="middle">50</text>
<text x="508.3" y="629.2" font-size="7.3" fill="#231f20" stroke="#231f20" stroke-width="0.18" text-anchor="middle">60</text>
<path d="M378.5 498.3H385.7V528.1H390.5V557.5H406.2V586.5H495.8" stroke="#4d6b95" stroke-width="1.1" fill="none" stroke-linejoin="miter"/>
<path d="M495.8 586.5V584.3" stroke="#4d6b95" stroke-width="0.7" fill="none"/>
<path d="M378.5 498.3H383.5V504.1H385.2V510.5H393.6V516.9H401.2V524.7H406.1V532H507.3" stroke="#b23d50" stroke-width="1.1" fill="none" stroke-linejoin="miter"/>
<path d="M381.4 498.3V496.1M388.2 510.5V508.3M391.5 510.5V508.3M396.9 516.9V514.7M399.6 516.9V514.7M408.8 532V529.8M415.7 532V529.8M419.6 532V529.8M426.5 532V529.8M430.5 532V529.8M434.6 532V529.8M448 532V529.8M450.8 532V529.8M472.7 532V529.8" stroke="#b23d50" stroke-width="0.7" fill="none"/>
<text x="9" y="15.6" font-size="10.6" fill="#231f20" stroke="#231f20" stroke-width="0.18" text-anchor="start" textLength="6.9" lengthAdjust="spacingAndGlyphs">A</text>
<text x="261.6" y="15.6" font-size="10.6" fill="#231f20" stroke="#231f20" stroke-width="0.18" text-anchor="start" textLength="6.4" lengthAdjust="spacingAndGlyphs">B</text>
<text x="260.6" y="159" font-size="10.6" fill="#231f20" stroke="#231f20" stroke-width="0.18" text-anchor="start" textLength="6.6" lengthAdjust="spacingAndGlyphs">C</text>
<text x="8.8" y="319.8" font-size="10.6" fill="#231f20" stroke="#231f20" stroke-width="0.18" text-anchor="start" textLength="7.4" lengthAdjust="spacingAndGlyphs">D</text>
<text x="177.8" y="319.5" font-size="10.6" fill="#231f20" stroke="#231f20" stroke-width="0.18" text-anchor="start" textLength="5.8" lengthAdjust="spacingAndGlyphs">E</text>
<text x="346.3" y="319.5" font-size="10.6" fill="#231f20" stroke="#231f20" stroke-width="0.18" text-anchor="start" textLength="5.4" lengthAdjust="spacingAndGlyphs">F</text>
<text x="368.6" y="20.6" font-size="9.6" fill="#231f20" stroke="#231f20" stroke-width="0.18" text-anchor="start" textLength="60.8" lengthAdjust="spacingAndGlyphs">Overall survival</text>
<text x="364.2" y="64.5" font-size="7.3" fill="#231f20" stroke="#231f20" stroke-width="0.18" text-anchor="start" textLength="56" lengthAdjust="spacingAndGlyphs">all patients (n=25)</text>
<text x="385.7" y="143.7" font-size="9.8" fill="#231f20" stroke="#231f20" stroke-width="0.18" text-anchor="start" textLength="25.8" lengthAdjust="spacingAndGlyphs">Weeks</text>
<text transform="translate(268 70.3) rotate(-90)" x="0" y="0" font-size="9.2" fill="#231f20" stroke="#231f20" stroke-width="0.3" text-anchor="middle" textLength="92.2" lengthAdjust="spacingAndGlyphs">Survival probability (%)</text>
<text x="350" y="163.8" font-size="9.6" fill="#231f20" stroke="#231f20" stroke-width="0.18" text-anchor="start" textLength="97.5" lengthAdjust="spacingAndGlyphs">Progression-free survival</text>
<text x="368" y="213.9" font-size="7.3" fill="#231f20" stroke="#231f20" stroke-width="0.18" text-anchor="start" textLength="55.8" lengthAdjust="spacingAndGlyphs">all patients (n=25)</text>
<text x="385.5" y="285.6" font-size="9.8" fill="#231f20" stroke="#231f20" stroke-width="0.18" text-anchor="start" textLength="25.8" lengthAdjust="spacingAndGlyphs">Weeks</text>
<text transform="translate(256.9 213) rotate(-90)" x="0" y="0" font-size="9.2" fill="#231f20" stroke="#231f20" stroke-width="0.3" text-anchor="middle" textLength="52.4" lengthAdjust="spacingAndGlyphs">Probability of</text>
<text transform="translate(268 213.2) rotate(-90)" x="0" y="0" font-size="9.2" fill="#231f20" stroke="#231f20" stroke-width="0.3" text-anchor="middle" textLength="112" lengthAdjust="spacingAndGlyphs">progression-free survival (%)</text>
<text x="75.4" y="328.1" font-size="9.6" fill="#231f20" stroke="#231f20" stroke-width="0.18" text-anchor="start" textLength="60.6" lengthAdjust="spacingAndGlyphs">Overall survival</text>
<text x="58.9" y="342.7" font-size="7.3" fill="#ab2f42" stroke="#ab2f42" stroke-width="0.08" text-anchor="start" textLength="66.5" lengthAdjust="spacingAndGlyphs">Grade 1-2 NTX (n=12)</text>
<text x="125.2" y="373.5" font-size="7.3" fill="#231f20" stroke="#231f20" stroke-width="0.18" text-anchor="start" textLength="28" lengthAdjust="spacingAndGlyphs">*p=0.013</text>
<text x="45.4" y="404.3" font-size="7.3" fill="#3f5e8c" stroke="#3f5e8c" stroke-width="0.08" text-anchor="start" textLength="66.7" lengthAdjust="spacingAndGlyphs">Grade 3-4 NTX (n=13)</text>
<text x="93.2" y="478.6" font-size="9.8" fill="#231f20" stroke="#231f20" stroke-width="0.18" text-anchor="start" textLength="25" lengthAdjust="spacingAndGlyphs">Weeks</text>
<text transform="translate(15.2 391.3) rotate(-90)" x="0" y="0" font-size="9.2" fill="#231f20" stroke="#231f20" stroke-width="0.3" text-anchor="middle" textLength="91.4" lengthAdjust="spacingAndGlyphs">Survival probability (%)</text>
<text x="57.3" y="492.2" font-size="9.6" fill="#231f20" stroke="#231f20" stroke-width="0.18" text-anchor="start" textLength="97.8" lengthAdjust="spacingAndGlyphs">Progression-free survival</text>
<text x="71.1" y="531.8" font-size="7.3" fill="#ab2f42" stroke="#ab2f42" stroke-width="0.08" text-anchor="start" textLength="67" lengthAdjust="spacingAndGlyphs">Grade 1-2 NTX (n=12)</text>
<text x="76.6" y="568.1" font-size="7.3" fill="#3f5e8c" stroke="#3f5e8c" stroke-width="0.08" text-anchor="start" textLength="67" lengthAdjust="spacingAndGlyphs">Grade 3-4 NTX (n=13)</text>
<text x="135.1" y="597.3" font-size="7.3" fill="#231f20" stroke="#231f20" stroke-width="0.18" text-anchor="start" textLength="25" lengthAdjust="spacingAndGlyphs">p=0.167</text>
<text x="93.2" y="642.4" font-size="9.8" fill="#231f20" stroke="#231f20" stroke-width="0.18" text-anchor="start" textLength="25.6" lengthAdjust="spacingAndGlyphs">Weeks</text>
<text transform="translate(15.3 556.4) rotate(-90)" x="0" y="0" font-size="9.2" fill="#231f20" stroke="#231f20" stroke-width="0.3" text-anchor="middle" textLength="168.7" lengthAdjust="spacingAndGlyphs">Probability of progression-free survival (%)</text>
<text x="245" y="328" font-size="9.6" fill="#231f20" stroke="#231f20" stroke-width="0.18" text-anchor="start" textLength="60.6" lengthAdjust="spacingAndGlyphs">Overall survival</text>
<text x="262.5" y="362.5" font-size="7.3" fill="#ab2f42" stroke="#ab2f42" stroke-width="0.08" text-anchor="start" textLength="61.3" lengthAdjust="spacingAndGlyphs">LDH &lt;400 U/L (n=9)</text>
<text x="219.7" y="388.7" font-size="7.3" fill="#3f5e8c" stroke="#3f5e8c" stroke-width="0.08" text-anchor="start" textLength="65.8" lengthAdjust="spacingAndGlyphs">LDH ≥400 U/L (n=14)</text>
<text x="275.2" y="439.6" font-size="7.3" fill="#231f20" stroke="#231f20" stroke-width="0.18" text-anchor="start" textLength="25" lengthAdjust="spacingAndGlyphs">p=0.114</text>
<text x="262.2" y="478.6" font-size="9.8" fill="#231f20" stroke="#231f20" stroke-width="0.18" text-anchor="start" textLength="25" lengthAdjust="spacingAndGlyphs">Weeks</text>
<text transform="translate(184.2 391.3) rotate(-90)" x="0" y="0" font-size="9.2" fill="#231f20" stroke="#231f20" stroke-width="0.3" text-anchor="middle" textLength="91.4" lengthAdjust="spacingAndGlyphs">Survival probability (%)</text>
<text x="226" y="492.2" font-size="9.6" fill="#231f20" stroke="#231f20" stroke-width="0.18" text-anchor="start" textLength="97.3" lengthAdjust="spacingAndGlyphs">Progression-free survival</text>
<text x="244.6" y="505.4" font-size="7.3" fill="#ab2f42" stroke="#ab2f42" stroke-width="0.08" text-anchor="start" textLength="61.2" lengthAdjust="spacingAndGlyphs">LDH &lt;400 U/L (n=9)</text>
<text x="251.9" y="567.9" font-size="7.3" fill="#3f5e8c" stroke="#3f5e8c" stroke-width="0.08" text-anchor="start" textLength="64.4" lengthAdjust="spacingAndGlyphs">LDH ≥400 U/L (n=14)</text>
<text x="293.1" y="597.4" font-size="7.3" fill="#231f20" stroke="#231f20" stroke-width="0.18" text-anchor="start" textLength="28.2" lengthAdjust="spacingAndGlyphs">*p=0.048</text>
<text x="262.2" y="642.4" font-size="9.8" fill="#231f20" stroke="#231f20" stroke-width="0.18" text-anchor="start" textLength="25.6" lengthAdjust="spacingAndGlyphs">Weeks</text>
<text transform="translate(184.3 556.4) rotate(-90)" x="0" y="0" font-size="9.2" fill="#231f20" stroke="#231f20" stroke-width="0.3" text-anchor="middle" textLength="168.7" lengthAdjust="spacingAndGlyphs">Probability of progression-free survival (%)</text>
<text x="415" y="328.4" font-size="9.6" fill="#231f20" stroke="#231f20" stroke-width="0.18" text-anchor="start" textLength="60.3" lengthAdjust="spacingAndGlyphs">Overall survival</text>
<text x="409.2" y="363" font-size="7.3" fill="#ab2f42" stroke="#ab2f42" stroke-width="0.08" text-anchor="start" textLength="43.4" lengthAdjust="spacingAndGlyphs">Steroids ≤10d</text>
<text x="420.3" y="372.2" font-size="7.3" fill="#ab2f42" stroke="#ab2f42" stroke-width="0.08" text-anchor="start" textLength="20.1" lengthAdjust="spacingAndGlyphs">(n=21)</text>
<text x="392.9" y="402.9" font-size="7.3" fill="#3f5e8c" stroke="#3f5e8c" stroke-width="0.08" text-anchor="start" textLength="25.6" lengthAdjust="spacingAndGlyphs">Steroids</text>
<text x="388.9" y="411" font-size="7.3" fill="#3f5e8c" stroke="#3f5e8c" stroke-width="0.08" text-anchor="start" textLength="34.2" lengthAdjust="spacingAndGlyphs">&gt;10d (n=4)</text>
<text x="456.2" y="407" font-size="7.3" fill="#231f20" stroke="#231f20" stroke-width="0.18" text-anchor="start" textLength="28" lengthAdjust="spacingAndGlyphs">*p=0.030</text>
<text x="431.6" y="478.6" font-size="9.8" fill="#231f20" stroke="#231f20" stroke-width="0.18" text-anchor="start" textLength="25.6" lengthAdjust="spacingAndGlyphs">Weeks</text>
<text transform="translate(353.3 391.3) rotate(-90)" x="0" y="0" font-size="9.2" fill="#231f20" stroke="#231f20" stroke-width="0.3" text-anchor="middle" textLength="91.4" lengthAdjust="spacingAndGlyphs">Survival probability (%)</text>
<text x="395.4" y="492.2" font-size="9.6" fill="#231f20" stroke="#231f20" stroke-width="0.18" text-anchor="start" textLength="97.9" lengthAdjust="spacingAndGlyphs">Progression-free survival</text>
<text x="418" y="540.4" font-size="7.3" fill="#ab2f42" stroke="#ab2f42" stroke-width="0.08" text-anchor="start" textLength="65.1" lengthAdjust="spacingAndGlyphs">Steroids ≤10d (n=21)</text>
<text x="415" y="594.6" font-size="7.3" fill="#3f5e8c" stroke="#3f5e8c" stroke-width="0.08" text-anchor="start" textLength="61.2" lengthAdjust="spacingAndGlyphs">Steroids &gt;10d (n=4)</text>
<text x="475.7" y="566.9" font-size="7.3" fill="#231f20" stroke="#231f20" stroke-width="0.18" text-anchor="start" textLength="25.4" lengthAdjust="spacingAndGlyphs">p=0.078</text>
<text x="431.6" y="642.4" font-size="9.8" fill="#231f20" stroke="#231f20" stroke-width="0.18" text-anchor="start" textLength="25.6" lengthAdjust="spacingAndGlyphs">Weeks</text>
<text transform="translate(353.4 556.4) rotate(-90)" x="0" y="0" font-size="9.2" fill="#231f20" stroke="#231f20" stroke-width="0.3" text-anchor="middle" textLength="168.7" lengthAdjust="spacingAndGlyphs">Probability of progression-free survival (%)</text>
<rect x="0" y="0" width="520" height="1" fill="#464646"/>
<rect x="0" y="1" width="520" height="1" fill="#a8a8a8"/>
<rect x="0" y="0" width="1" height="650" fill="#464646"/>
<rect x="1" y="1" width="1" height="648" fill="#a8a8a8"/>
<rect x="518" y="0" width="2" height="650" fill="#464646"/>
<rect x="517" y="1" width="1" height="647" fill="#b0b0b0"/>
<rect x="0" y="648" width="520" height="2" fill="#464646"/>
<rect x="1" y="647" width="517" height="1" fill="#b0b0b0"/>
</svg></body></html>
